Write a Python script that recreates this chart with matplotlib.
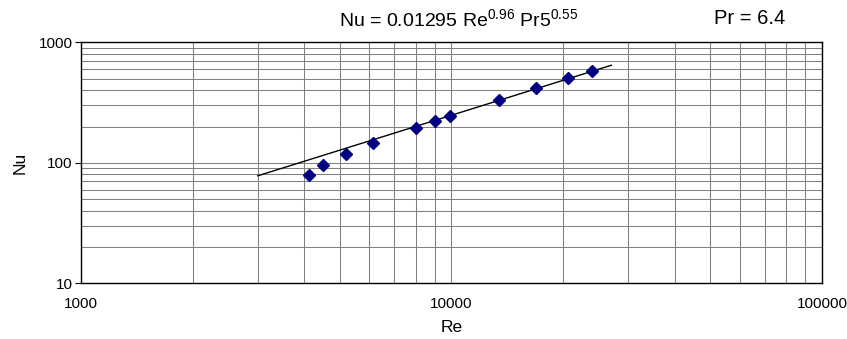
import matplotlib.pyplot as plt
from matplotlib.ticker import FixedLocator, NullFormatter, FixedFormatter

plt.rcParams['font.family'] = ['Liberation Sans', 'DejaVu Sans']
plt.rcParams['mathtext.fontset'] = 'custom'
plt.rcParams['mathtext.rm'] = 'Liberation Sans'
plt.rcParams['mathtext.it'] = 'Liberation Sans'

# measured data
re_data = [4130, 4510, 5180, 6150, 8020, 9040, 9910, 13430, 16900, 20660, 23900]
nu_data = [79, 95, 118, 147, 196, 224, 245, 332, 415, 505, 578]

# correlation line end points
fit_re = [3000, 27000]
fit_nu = [78, 645]

x_ticks = [1000, 10000, 100000]
y_ticks = [10, 100, 1000]

fig = plt.figure(figsize=(8.47, 3.39), dpi=100)
ax = fig.add_axes([0.0956, 0.1643, 0.8749, 0.7109])

ax.plot(fit_re, fit_nu, color='black', linewidth=1.0, zorder=3)
ax.plot(re_data, nu_data, linestyle='none', marker='D', markersize=6.5,
        color='#000080', zorder=4)

ax.set_xscale('log')
ax.set_yscale('log')
ax.set_xlim(1000, 100000)
ax.set_ylim(10, 1000)

ax.xaxis.set_major_locator(FixedLocator(x_ticks))
ax.xaxis.set_major_formatter(FixedFormatter([str(v) for v in x_ticks]))
ax.yaxis.set_major_locator(FixedLocator(y_ticks))
ax.yaxis.set_major_formatter(FixedFormatter([str(v) for v in y_ticks]))
ax.xaxis.set_minor_formatter(NullFormatter())
ax.yaxis.set_minor_formatter(NullFormatter())

ax.grid(True, which='both', color='#808080', linewidth=0.75)
ax.tick_params(which='minor', length=0)
ax.tick_params(which='major', length=4, width=0.8, labelsize=11, pad=2)
ax.tick_params(axis='x', length=0, pad=10)

for s in ax.spines.values():
    s.set_color('black')
    s.set_linewidth(1.0)

ax.set_xlabel('Re', fontsize=12.5, labelpad=6)
ax.set_ylabel('Nu', fontsize=12.5, labelpad=8)

fig.text(0.541, 0.944, r'Nu = 0.01295 Re$^{\mathregular{0.96}}$ Pr5$^{\mathregular{0.55}}$',
         ha='center', va='center', fontsize=14)
fig.text(0.885, 0.944, 'Pr = 6.4', ha='center', va='center', fontsize=14.5)

fig.savefig('out.png', dpi=100)
